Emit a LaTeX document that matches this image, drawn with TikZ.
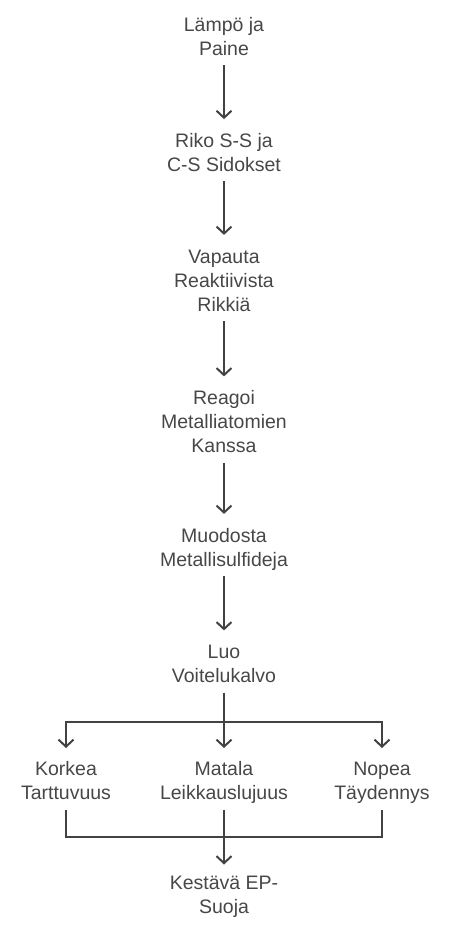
\documentclass[tikz,border=0pt]{standalone}
\usepackage{fontspec}
\setmainfont{Liberation Sans}
\usetikzlibrary{arrows.meta}
\definecolor{txt}{HTML}{474747}
\definecolor{ln}{HTML}{424242}
\newcommand{\ls}{\vrule width 0pt height 18.9pt depth 5.1pt\relax}
\begin{document}
\begin{tikzpicture}[x=1pt,y=-1pt,
  lbl/.style={inner sep=0pt, outer sep=0pt, align=center, text=txt,
    font=\fontsize{19.5}{24}\selectfont},
  conn/.style={draw=ln, line width=2pt},
  arr/.style={conn, -{Straight Barb[length=7pt,width=15pt,line width=2pt]}}]
\useasboundingbox (0,0) rectangle (448,932);
\node[lbl] (a) at (224,36.7) {\ls Lämpö ja\\\ls Paine};
\node[lbl] (b) at (224,152.7) {\ls Riko S-S ja\\\ls C-S Sidokset};
\node[lbl] (c) at (224,280.5) {\ls Vapauta\\\ls Reaktiivista\\\ls Rikkiä};
\node[lbl] (d) at (224,422) {\ls Reagoi\\\ls Metalliatomien\\\ls Kanssa};
\node[lbl] (e) at (224,547.5) {\ls Muodosta\\\ls Metallisulfideja};
\node[lbl] (f) at (224,664) {\ls Luo\\\ls Voitelukalvo};
\node[lbl] (g1) at (66,781) {\ls Korkea\\\ls Tarttuvuus};
\node[lbl] (g2) at (224,781) {\ls Matala\\\ls Leikkauslujuus};
\node[lbl] (g3) at (382,781) {\ls Nopea\\\ls Täydennys};
\node[lbl] (h) at (224,895) {\ls Kestävä EP-\\\ls Suoja};
\coordinate (fj) at (224,722);
\coordinate (bm) at (224,837);
\draw[arr, shorten <=4.5pt, shorten >=9.6pt] (a) -- (b);
\draw[arr, shorten <=4.5pt, shorten >=9.6pt] (b) -- (c);
\draw[arr, shorten <=4.5pt, shorten >=9.6pt] (c) -- (d);
\draw[arr, shorten <=4.5pt, shorten >=9.6pt] (d) -- (e);
\draw[arr, shorten <=4.5pt, shorten >=9.6pt] (e) -- (f);
\draw[arr, shorten <=4.5pt, shorten >=9pt] (f) -- (g2);
\draw[arr, shorten >=9pt] (fj) -| (g1);
\draw[arr, shorten >=9pt] (fj) -| (g3);
\draw[conn, shorten <=4.5pt, shorten >=4.5pt] (g1) |- (bm) -| (g3);
\draw[arr, shorten <=4.5pt, shorten >=6.5pt] (g2) -- (h);
\end{tikzpicture}
\end{document}
